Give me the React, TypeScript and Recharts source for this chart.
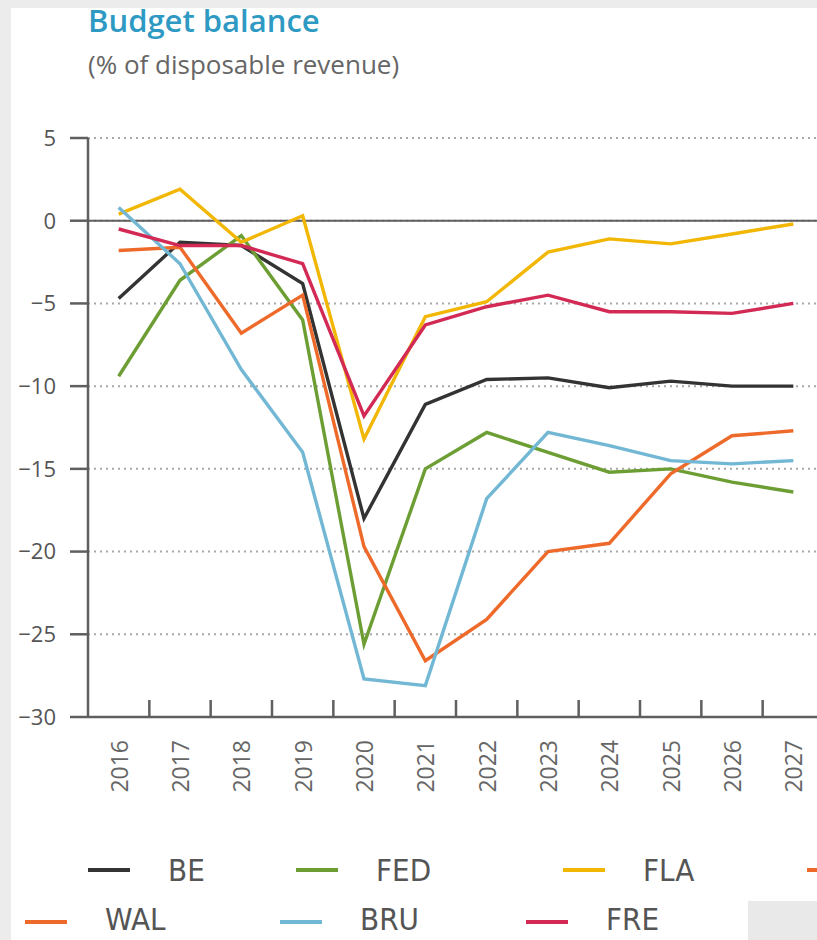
import { LineChart, Line, XAxis, YAxis, CartesianGrid, ReferenceLine } from 'recharts';

const years = [2016, 2017, 2018, 2019, 2020, 2021, 2022, 2023, 2024, 2025, 2026, 2027];
const yTicks = [5, 0, -5, -10, -15, -20, -25, -30];

const be = [-4.7, -1.3, -1.5, -3.8, -18.0, -11.1, -9.6, -9.5, -10.1, -9.7, -10.0, -10.0];
const fed = [-9.4, -3.6, -0.9, -6.0, -25.6, -15.0, -12.8, -14.0, -15.2, -15.0, -15.8, -16.4];
const fla = [0.4, 1.9, -1.3, 0.3, -13.2, -5.8, -4.9, -1.9, -1.1, -1.4, -0.8, -0.2];
const wal = [-1.8, -1.6, -6.8, -4.5, -19.7, -26.6, -24.1, -20.0, -19.5, -15.3, -13.0, -12.7];
const bru = [0.8, -2.6, -9.0, -14.0, -27.7, -28.1, -16.8, -12.8, -13.6, -14.5, -14.7, -14.5];
const fre = [-0.5, -1.5, -1.5, -2.6, -11.8, -6.3, -5.2, -4.5, -5.5, -5.5, -5.6, -5.0];

const series = [
  { key: 'BE', color: '#333333' },
  { key: 'FED', color: '#6c9e34' },
  { key: 'FLA', color: '#f2b705' },
  { key: 'WAL', color: '#ee6a2a' },
  { key: 'BRU', color: '#72b8d4' },
  { key: 'FRE', color: '#d22a55' },
];

const data = years.map((year, i) => ({
  year,
  BE: be[i],
  FED: fed[i],
  FLA: fla[i],
  WAL: wal[i],
  BRU: bru[i],
  FRE: fre[i],
}));

// legend is laid out by hand, the screenshot is cropped on the right
const legendLayout = [
  { key: 'BE', x: 88, row: 0 },
  { key: 'FED', x: 296, row: 0 },
  { key: 'FLA', x: 563, row: 0 },
  { key: 'WAL', x: 25, row: 1 },
  { key: 'BRU', x: 280, row: 1 },
  { key: 'FRE', x: 526, row: 1 },
];
const rowY = [870, 922];
const rowTextTop = [857, 906];

const axisGray = '#5f5f5f';
const font = '"Open Sans", "DejaVu Sans", sans-serif';
const TICK_MARGIN = 23;

function YearTick(props: any) {
  const { x, y, payload, width, visibleTicksCount } = props;
  const half = width / visibleTicksCount / 2;
  const axisY = y - TICK_MARGIN;
  return (
    <g>
      <line x1={x + half} x2={x + half} y1={axisY - 17} y2={axisY} stroke={axisGray} strokeWidth={2.5} />
      <text
        x={x}
        y={y}
        transform={`rotate(-90 ${x} ${y})`}
        textAnchor="end"
        dominantBaseline="central"
        fill="#666"
        fontSize={23}
        fontFamily={font}
      >
        {payload.value}
      </text>
    </g>
  );
}

export default function App() {
  return (
    <div style={{ position: 'absolute', left: 0, top: 0, width: 817, height: 940, background: '#ececec', overflow: 'hidden' }}>
      <div style={{ position: 'absolute', left: 11, top: 8, right: 0, bottom: 0, background: '#fff' }} />
      <div style={{ position: 'absolute', left: 748, top: 901, right: 0, bottom: 0, background: '#e9e9e9' }} />

      <div style={{ position: 'absolute', left: 88, top: 2, fontFamily: font, fontSize: 31, fontWeight: 600, color: '#2e9ac3', lineHeight: 1.2 }}>
        Budget balance
      </div>
      <div style={{ position: 'absolute', left: 88, top: 51, fontFamily: font, fontSize: 26, color: '#666', lineHeight: 1 }}>
        (% of disposable revenue)
      </div>

      <div style={{ position: 'absolute', left: 0, top: 0 }}>
        <LineChart width={830} height={820} data={data} margin={{ top: 138, right: 6, bottom: 0, left: 0 }}>
          <CartesianGrid vertical={false} stroke="#a8a8a8" strokeWidth={2} strokeDasharray="2 4" />
          <XAxis
            dataKey="year"
            type="number"
            domain={[2015.5, 2027.5]}
            ticks={years}
            height={103}
            tickLine={false}
            tickSize={0}
            tickMargin={TICK_MARGIN}
            axisLine={{ stroke: axisGray, strokeWidth: 2.5 }}
            tick={<YearTick />}
            interval={0}
          />
          <YAxis
            domain={[-30, 5]}
            ticks={yTicks}
            width={88}
            tickSize={18}
            tickMargin={14}
            tickLine={{ stroke: axisGray, strokeWidth: 2.5 }}
            axisLine={{ stroke: axisGray, strokeWidth: 2.5 }}
            tick={{ fill: '#555', fontSize: 22, fontFamily: font }}
            tickFormatter={(v: number) => String(v).replace('-', '\u2212')}
            interval={0}
          />
          <ReferenceLine y={0} stroke={axisGray} strokeWidth={2} />
          {series.map((s) => (
            <Line
              key={s.key}
              type="linear"
              dataKey={s.key}
              stroke={s.color}
              strokeWidth={3.4}
              dot={false}
              isAnimationActive={false}
            />
          ))}
        </LineChart>
      </div>

      {legendLayout.map((item) => {
        const s = series.find((d) => d.key === item.key)!;
        const cy = rowY[item.row];
        return (
          <div key={item.key}>
            <div style={{ position: 'absolute', left: item.x, top: cy - 2, width: 42, height: 4, background: s.color }} />
            <div
              style={{
                position: 'absolute',
                left: item.x + 80,
                top: rowTextTop[item.row],
                fontFamily: '"DejaVu Sans Condensed", "DejaVu Sans", sans-serif',
                fontSize: 31,
                lineHeight: 0.85,
                color: '#555',
              }}
            >
              {item.key}
            </div>
          </div>
        );
      })}
      {/* fourth legend entry of the first row, cut off by the crop */}
      <div style={{ position: 'absolute', left: 807, top: rowY[0] - 2, width: 42, height: 4, background: '#ee6a2a' }} />
    </div>
  );
}
